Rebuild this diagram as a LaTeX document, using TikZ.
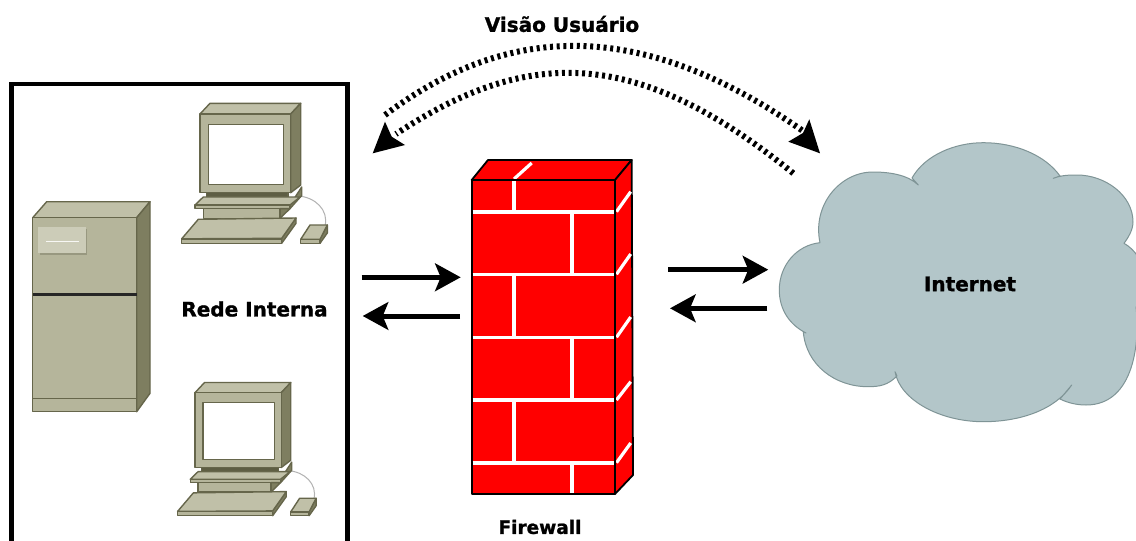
\documentclass[tikz,border=0pt]{standalone}
\usepackage{fontspec}
\setmainfont[BoldFeatures={FakeBold=1.2}]{DejaVu Sans}
\usetikzlibrary{arrows.meta}
\definecolor{cfront}{HTML}{B5B59B}
\definecolor{ctop}{HTML}{C0C0A8}
\definecolor{cside}{HTML}{7E7E60}
\definecolor{cdark}{HTML}{5E5E44}
\definecolor{cline}{HTML}{66664B}
\definecolor{cpanel}{HTML}{CCCCB8}
\definecolor{cloudfill}{HTML}{B3C6C9}
\definecolor{cloudline}{HTML}{7F9496}
\definecolor{brick}{HTML}{FF0000}
\tikzset{
  x=1pt,y=-1pt,
  label text/.style={font=\bfseries,inner sep=0pt,text=black},
  solid arrow/.style={line width=5pt,-{Stealth[length=25.5pt,width=27.5pt,inset=5.5pt]}},
  view line/.style={line width=6pt,dash pattern=on 3pt off 3.7pt},
  view head/.style={fill=black},
  part/.style={draw=cline,line width=1.4pt,line join=round},
  mortar/.style={draw=white,line width=3.6pt},
  wall/.style={draw=black,line width=1.8pt,line join=round,fill=brick},
}
\newcommand{\drawcomputer}{%
  \draw[gray!60,line width=1pt] (298,196) .. controls (315,197) and (329,210) .. (325,226);
  \draw[part,fill=ctop] (200,114) -- (210,103.3) -- (300.7,103.3) -- (290.7,114) -- cycle;
  \draw[part,fill=cside] (290.7,114) -- (300.7,103.3) -- (300.7,185) -- (290.7,192.7) -- cycle;
  \draw[part,fill=cfront] (200,114) rectangle (290.7,192.7);
  \draw[part,fill=white] (208.3,124.3) rectangle (283.3,184.3);
  \draw[part,fill=cdark] (206.7,192.7) rectangle (288,197);
  \draw[part,fill=cside] (290,205) -- (301.7,187) -- (301.7,195.5) -- (290,208.6) -- cycle;
  \draw[part,fill=ctop] (195,205) -- (203.3,197) -- (300,197) -- (290,205) -- cycle;
  \draw[part,fill=cfront] (195,205) rectangle (290,208.6);
  \draw[part,fill=cside] (280,208.6) -- (290,208.6) -- (280,218.3) -- cycle;
  \draw[part,fill=cfront] (203.3,208.6) rectangle (280,218.3);
  \draw[part,fill=cside] (281.7,238.3) -- (296,218) -- (296,223.3) -- (281.7,243.3) -- cycle;
  \draw[part,fill=ctop] (181.7,238.8) -- (198.3,219.3) -- (296,218) -- (281.7,238.3) -- cycle;
  \draw[part,fill=cfront] (181.7,238.8) rectangle (281.7,243.3);
  \draw[part,fill=cside] (320,239.3) -- (327.3,225) -- (327.3,233) -- (320,243.3) -- cycle;
  \draw[part,fill=ctop] (300.7,239.3) -- (310,225) -- (327.3,225) -- (320,239.3) -- cycle;
  \draw[part,fill=cfront] (300.7,239.3) rectangle (320,243.3);
}
\begin{document}
\begin{tikzpicture}
\useasboundingbox (0,0) rectangle (1136,541);
\fill[white] (0,0) rectangle (1136,541);

% inner network frame
\coordinate (frameBL) at (11.5,541);
\coordinate (frameTL) at (11.5,84);
\coordinate (frameTR) at (347.5,84);
\coordinate (frameBR) at (347.5,541);
\draw[line width=4.6pt,line join=miter] (frameBL) -- (frameTL) -- (frameTR) -- (frameBR);

% server
\draw[part,fill=ctop] (32.7,217.7) -- (46.7,201.7) -- (150,201.7) -- (136.7,217.7) -- cycle;
\draw[part,fill=cside] (136.7,217.7) -- (150,201.7) -- (150,393.3) -- (136.7,411.7) -- cycle;
\draw[part,fill=cfront] (32.7,217.7) rectangle (136.7,411.7);
\draw[line width=2.6pt,black!85] (32.7,294.7) -- (136.7,294.7);
\draw[cline,line width=1pt] (32.7,398.3) -- (136.7,398.3);
\fill[cside!80] (39.5,228.5) rectangle (87,255);
\fill[cpanel] (38.3,227.3) rectangle (85.5,253);
\draw[white!85!cpanel,line width=1pt] (46,241.7) -- (79.3,241.7);

% computers
\begin{scope}
  \drawcomputer
\end{scope}
\begin{scope}[shift={(195,392.7)},scale=0.951,shift={(-200,-114)}]
  \drawcomputer
\end{scope}

% firewall
\draw[wall] (471.7,180) -- (488,160) -- (631.7,160) -- (615,180) -- cycle;
\draw[wall] (615,180) -- (631.7,160) -- (633,475) -- (615,494) -- cycle;
\draw[mortar,line width=3.2pt] (514,179) -- (531.7,163);
\foreach \y/\yy in {211.7/191.7,274.3/254,337.3/317,400/381.7,462.7/443}
  \draw[mortar,line width=3.2pt] (616.5,\y) -- (630.7,\yy);
\draw[wall] (471.7,180) rectangle (615,494);
\foreach \y in {211.7,274.3,337.3,400,462.7}
  \draw[mortar] (472.6,\y) -- (614.1,\y);
\draw[mortar] (514,181) -- (514,211.7);
\draw[mortar] (572,211.7) -- (572,274.3);
\draw[mortar] (514,274.3) -- (514,337.3);
\draw[mortar] (572,337.3) -- (572,400);
\draw[mortar] (514,400) -- (514,462.7);
\draw[mortar] (572,462.7) -- (572,493);

% cloud
\begin{scope}
\clip (0,0) rectangle (1136,541);
\draw[fill=cloudfill,draw=cloudline,line width=1pt,line join=round]
  (820,242.7) .. controls (812,205) and (840,172) .. (873,172)
  .. controls (890,172) and (908,175) .. (918.3,185)
  -- (912,178) .. controls (925,155) and (955,142.7) .. (983.3,142.7)
  .. controls (1015,142.7) and (1045,155) .. (1060,176)
  -- (1053.3,178.3) .. controls (1062,175) and (1070,175) .. (1077,175)
  .. controls (1105,175) and (1133,195) .. (1133,222)
  .. controls (1133,230) and (1128,238) .. (1124,243.3)
  .. controls (1145,255) and (1155,290) .. (1136,307)
  .. controls (1140,340) and (1135,405) .. (1086,405)
  .. controls (1077,405) and (1068,403) .. (1060,399)
  -- (1071.7,385) .. controls (1055,410) and (1020,421.7) .. (983.3,421.7)
  .. controls (940,421.7) and (900,400) .. (895,371.7)
  -- (897,376) .. controls (888,385) and (880,386.7) .. (868,386.7)
  .. controls (835,386.7) and (806,365) .. (803.3,331.7)
  -- (806,333) .. controls (790,325) and (779.3,310) .. (779.3,290)
  .. controls (779.3,265) and (797,245) .. (820,242.7) -- cycle;
\end{scope}

% solid arrows
\coordinate (a1s) at (361.7,277.3); \coordinate (a1e) at (460.7,277.3);
\coordinate (a2s) at (460,316);     \coordinate (a2e) at (362.7,316);
\coordinate (a3s) at (668.3,269.7); \coordinate (a3e) at (768.3,269.7);
\coordinate (a4s) at (767.3,308.3); \coordinate (a4e) at (670,308.3);
\draw[solid arrow] (a1s) -- (a1e);
\draw[solid arrow] (a2s) -- (a2e);
\draw[solid arrow] (a3s) -- (a3e);
\draw[solid arrow] (a4s) -- (a4e);

% user view arcs
\coordinate (v1s) at (385,115); \coordinate (v1e) at (803,131);
\coordinate (v2s) at (396,134); \coordinate (v2e) at (793.3,173.3);
\draw[view line] (v1s) .. controls (515,17) and (650,24) .. (v1e);
\draw[view line] (v2e) .. controls (640,49) and (530,45) .. (v2s);
\fill[view head] (820,153.3) -- (809.3,119.3) -- (803,133) -- (788.3,141.7) -- cycle;
\fill[view head] (372.7,153.3) -- (385,121.7) -- (391.7,136.7) -- (405,145) -- cycle;

% labels
\node[label text,font=\bfseries\fontsize{20}{24}\selectfont] (visao) at (562,24) {Visão Usuário};
\node[label text,font=\bfseries\fontsize{20}{24}\selectfont] (rede) at (254.5,309) {Rede Interna};
\node[label text,font=\bfseries\fontsize{20}{24}\selectfont] (internet) at (970,284) {Internet};
\node[label text,font=\bfseries\fontsize{18.5}{22}\selectfont] (firewall) at (540,527) {Firewall};
\end{tikzpicture}
\end{document}
